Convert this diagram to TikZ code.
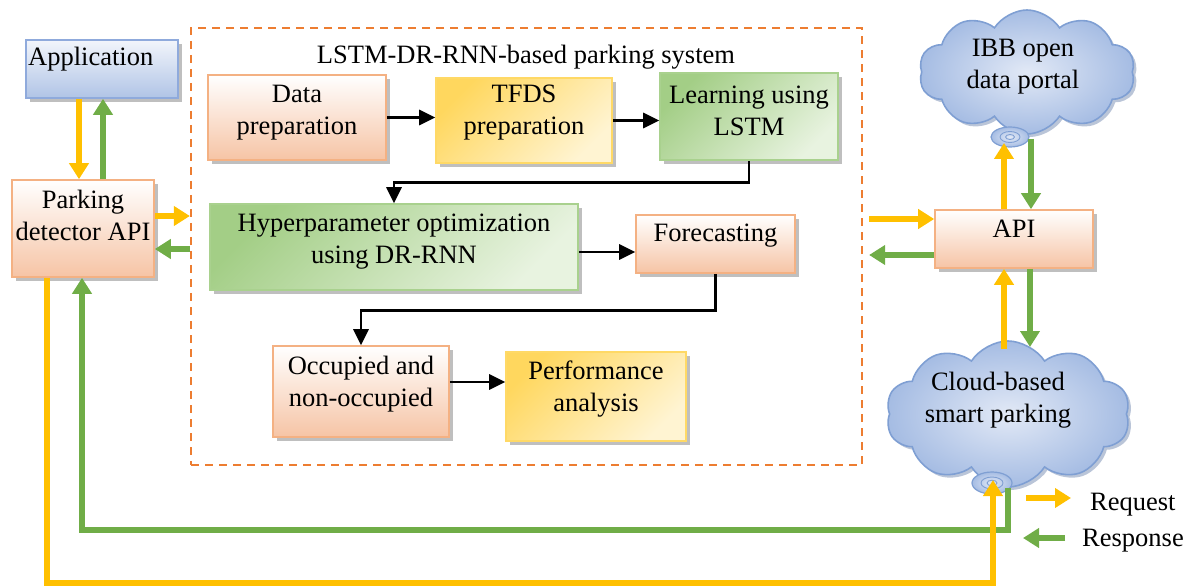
\documentclass[tikz,border=0pt]{standalone}
\usepackage{fontspec}
\setmainfont{Liberation Serif}
\usetikzlibrary{arrows.meta,shadows,shapes.symbols,shapes.geometric,calc}
\definecolor{org}{HTML}{FFC000}
\definecolor{grn}{HTML}{70AD47}
\definecolor{dashc}{HTML}{ED7D31}
\definecolor{obrd}{HTML}{F4B183}
\definecolor{obot}{HTML}{F6C4A5}
\definecolor{ybrd}{HTML}{FFD966}
\definecolor{ydark}{HTML}{FFD75E}
\definecolor{ylight}{HTML}{FFF4D2}
\definecolor{gbrd}{HTML}{A9D18E}
\definecolor{gdark}{HTML}{A3CE86}
\definecolor{glight}{HTML}{E8F3E0}
\definecolor{bbrd}{HTML}{8FAADC}
\definecolor{btop}{HTML}{F2F5FB}
\definecolor{bbot}{HTML}{B0C4E6}
\definecolor{cin}{HTML}{E2E9F6}
\definecolor{cout}{HTML}{A5BCE3}
\definecolor{cbrd}{HTML}{7F9FD3}
\begin{document}
\begin{tikzpicture}[x=1pt,y=-1pt,
  every node/.style={font=\fontsize{26.5}{32}\selectfont},
  box/.style={draw, line width=1.6pt, inner sep=0pt,
    drop shadow={shadow xshift=4pt, shadow yshift=-4pt, fill=black!50, opacity=0.5}},
  obox/.style={box, draw=obrd, top color=white, bottom color=obot},
  ybox/.style={box, draw=ybrd, shading=axis, top color=ydark, bottom color=ylight, shading angle=45},
  gbox/.style={box, draw=gbrd, shading=axis, top color=gdark, bottom color=glight, shading angle=45},
  bbox/.style={box, draw=bbrd, top color=btop, bottom color=bbot},
  lbl/.style={align=center, inner sep=0pt},
  cloudbox/.style={cloud, cloud puffs=10, cloud puff arc=115, draw=cbrd, line width=1.6pt,
    inner color=cin, outer color=cout, inner sep=0pt,
    drop shadow={shadow xshift=3pt, shadow yshift=-3pt, fill=cbrd!80!black, opacity=0.45}},
  swirl/.style={ellipse, draw=cbrd, line width=1.2pt, inner color=cin, outer color=cout, inner sep=0pt},
  barr/.style={draw=black, line width=2.8pt, -{Triangle[width=15pt,length=16pt]}},
  oarr/.style={draw=org, line width=5.5pt, -{Triangle[width=19pt,length=16pt]}},
  garr/.style={draw=grn, line width=5.5pt, -{Triangle[width=19pt,length=16pt]}},
]
\useasboundingbox (0,0) rectangle (1191,588);

% dashed system frame
\node[draw=dashc, dash pattern=on 8pt off 6pt, line width=2.2pt, minimum width=671, minimum height=437, inner sep=0pt] (sys) at (526.5,246.5) {};
\node[anchor=base] (title) at (526,64) {LSTM-DR-RNN-based parking system};

% left boxes
\node[bbox, minimum width=152, minimum height=58] (app) at (102,69) {};
\node[anchor=base west, inner sep=0pt] (appL) at (28,66) {Application};
\node[obox, minimum width=142, minimum height=97] (pk) at (83,228.5) {};
\node[lbl] (pkL) at ([yshift=13pt]pk.center) {Parking\\detector API};

% inner boxes
\node[obox, minimum width=178, minimum height=85] (dp) at (297,117.5) {};
\node[lbl] (dpL) at ([yshift=5pt]dp.center) {Data\\preparation};
\node[ybox, minimum width=176, minimum height=85] (tf) at (524,120.5) {};
\node[lbl] (tfL) at ([yshift=8pt]tf.center) {TFDS\\preparation};
\node[gbox, minimum width=178, minimum height=87] (lr) at (749,116.5) {};
\node[lbl] (lrL) at ([yshift=6pt]lr.center) {Learning using\\LSTM};
\node[gbox, minimum width=368, minimum height=86] (hp) at (394,247) {};
\node[lbl] (hpL) at ([yshift=5pt]hp.center) {Hyperparameter optimization\\using DR-RNN};
\node[obox, minimum width=159, minimum height=58] (fc) at (715.5,244) {};
\node[lbl] (fcL) at ([yshift=8pt]fc.center) {Forecasting};
\node[obox, minimum width=176, minimum height=91] (oc) at (361,391.5) {};
\node[lbl] (ocL) at ([yshift=7pt]oc.center) {Occupied and\\non-occupied};
\node[ybox, minimum width=180, minimum height=89] (pf) at (596,396.5) {};
\node[lbl] (pfL) at ([yshift=7pt]pf.center) {Performance\\analysis};

% right side
\node[obox, minimum width=158, minimum height=58] (api) at (1014,239) {};
\node[lbl] (apiL) at ([yshift=10pt]api.center) {API};
\node[cloudbox, minimum width=216, minimum height=124] (ibb) at (1027,72) {};
\node[lbl] (ibbL) at (1023,67) {IBB open\\data portal};
\node[swirl, minimum width=38, minimum height=20] (sw1) at (1010,137) {};
\draw[cbrd, line width=0.9pt] (sw1.center) ellipse (10 and 5.5) (sw1.center) ellipse (4.5 and 2.5);
\node[cloudbox, minimum width=244, minimum height=146] (cl) at (1008,414) {};
\node[lbl] (clL) at (998,400) {Cloud-based\\smart parking};
\node[swirl, minimum width=40, minimum height=22] (sw2) at (992,483) {};
\draw[cbrd, line width=0.9pt] (sw2.center) ellipse (11 and 6) (sw2.center) ellipse (5 and 2.8);

% black flow arrows
\draw[barr] (dp.east) -- (dp.east -| tf.west);
\draw[barr] (tf.east) -- (tf.east -| lr.west);
\draw[barr] (lr.south) -- ++(0,22) -| (hp.north);
\draw[barr] (hp.east |- 0,252) -- (fc.west |- 0,252);
\draw[barr] (fc.south) -- ++(0,37) -| (oc.north);
\draw[barr] (oc.east |- 0,382) -- (pf.west |- 0,382);

% application <-> parking detector
\draw[oarr] (app.south -| 79,0) -- (pk.north -| 79,0);
\draw[garr] (pk.north -| 103,0) -- (app.south -| 103,0);
% parking detector <-> system
\draw[oarr] (pk.east |- 0,216) -- (sys.west |- 0,216);
\draw[garr] (sys.west |- 0,249) -- (pk.east |- 0,249);
% system <-> API
\draw[oarr, shorten <=6pt] (sys.east |- 0,219) -- (api.west |- 0,219);
\draw[garr, shorten >=6pt] (api.west |- 0,255) -- (sys.east |- 0,255);
% API <-> IBB
\coordinate (ibbin) at (1004,143);
\coordinate (ibbout) at (1031,139);
\draw[oarr] (api.north -| 1004,0) -- (ibbin);
\draw[garr] (ibbout) -- (api.north -| 1031,0);
% API <-> cloud
\coordinate (clin) at (1004,349);
\coordinate (clout) at (1030,347);
\draw[oarr] (clin) -- (api.south -| 1004,0);
\draw[garr] (api.south -| 1030,0) -- (clout);
% long loops
\coordinate (clout2) at (1008,488);
\coordinate (clin2) at (993,480);
\draw[garr] (clout2) -- (1008,530) -| (pk.south -| 82,0);
\draw[oarr] (pk.south -| 47,0) -- (47,583) -| (clin2);

% legend
\coordinate (lg1a) at (1026,498);
\coordinate (lg1b) at (1071,498);
\draw[oarr] (lg1a) -- (lg1b);
\node[anchor=base west, inner sep=0pt] (req) at (1090,510) {Request};
\coordinate (lg2a) at (1065,538);
\coordinate (lg2b) at (1023,538);
\draw[garr] (lg2a) -- (lg2b);
\node[anchor=base west, inner sep=0pt] (resp) at (1082,546) {Response};
\end{tikzpicture}
\end{document}
